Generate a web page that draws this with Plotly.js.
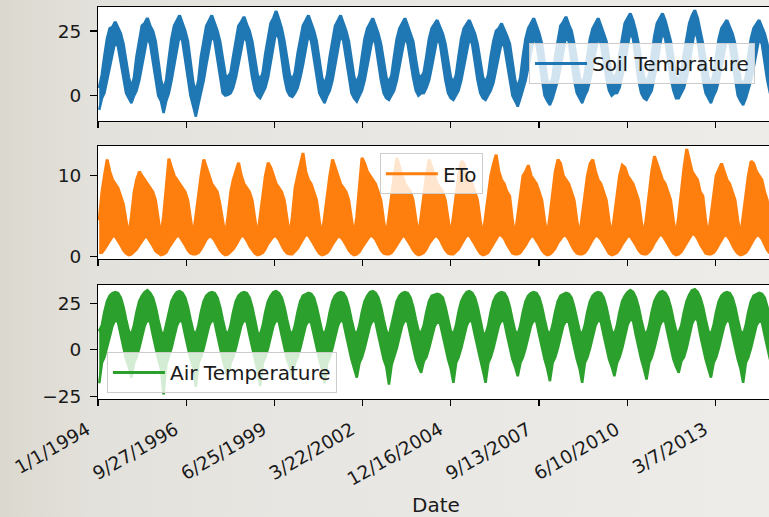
<!DOCTYPE html>
<html><head><meta charset="utf-8">
<script src="https://cdn.plot.ly/plotly-3.0.1.min.js"></script>
<style>
html,body{margin:0;padding:0;overflow:hidden;width:769px;height:517px;}
body{background:linear-gradient(90deg,#dbd8cf 0%,#e3e1db 12%,#e8e6e2 40%,#edece9 100%);}
#chart{width:779px;height:517px;}
</style></head><body><div id="chart"></div>
<script>
// ---- data (monthly envelopes: high / low of the daily line) ----
const startYear = 1994, endYear = 2014;
const tickDates = ['1994-01-01','1996-09-27','1999-06-25','2002-03-22','2004-12-16','2007-09-13','2010-06-10','2013-03-07'];
const tickLabels = ['1/1/1994','9/27/1996','6/25/1999','3/22/2002','12/16/2004','9/13/2007','6/10/2010','3/7/2013'];
const seriesNames = ['Soil Temprature','ETo','Air Temperature'];

const soilHi = [
  3, 8, 15, 22, 26, 26.5, 28.5, 26, 24, 20, 13, 7,
  3, 7, 15, 22, 27, 28, 30, 27, 25, 21, 14, 6,
  2, 6, 14, 22, 27, 29, 31, 28, 25, 21, 13, 5,
  1, 6, 15, 22, 27, 29, 31, 28, 25, 21, 14, 8,
  7, 9, 15, 22, 27, 28.5, 30.5, 27.5, 25, 21, 14, 8,
  6, 9, 16, 23, 28, 30, 32.7, 29.5, 26, 21, 14, 8,
  6, 9, 16, 22, 27, 29, 31, 28, 25, 21, 14, 7,
  4, 8, 15, 22, 27, 29, 31, 28, 25, 21, 14, 7,
  5, 8, 15, 22, 26, 28, 29.9, 27, 24, 20, 13, 7,
  5, 8, 15, 22, 26, 28, 29.9, 27, 24, 21, 14, 8,
  7, 9, 15, 22, 26, 27.5, 29.2, 26.5, 24, 20, 13, 7,
  5, 8, 15, 22, 26, 27.5, 29.2, 26.5, 24, 20, 13, 7,
  5, 8, 15, 21, 25, 26, 27.9, 25.5, 23, 20, 13, 6,
  3, 7, 15, 22, 26, 28, 29.9, 27, 24, 20, 13, 6,
  4, 7, 15, 22, 27, 28.5, 30.5, 27.5, 25, 20, 13, 7,
  4, 8, 15, 22, 26, 28, 29.9, 27, 24, 21, 14, 8,
  7, 9, 16, 23, 28, 30, 31.8, 29, 25, 20, 13, 7,
  5, 8, 15, 23, 28, 30, 31.8, 29, 25, 21, 14, 7,
  6, 9, 16, 23, 28, 31, 33, 30, 25, 20, 13, 7,
  4, 8, 15, 22, 26, 27.5, 29.2, 26.5, 24, 20, 13, 6,
  4, 7, 15, 22, 26, 27.5, 29.2, 26.5, 24, 20, 13, 7
];
const soilLo = [
  -5.5, -1, 1, 6, 11, 16, 21, 19, 13, 6, 1, -1,
  -2.9, 0, 2, 6, 11, 17, 22.5, 20, 13, 6, 0, -2,
  -6.7, -2, 1, 6, 12, 18, 23.5, 21, 14, 6, 0, -4,
  -8.1, -3, 1, 6, 12, 18, 23.5, 21, 14, 7, 1, 0,
  0.3, 1, 3, 7, 12, 18, 23, 21, 14, 7, 2, 0,
  -1, 1, 3, 7, 13, 19, 25, 22, 14, 7, 2, 0,
  -0.5, 1, 3, 7, 12, 18, 23.5, 21, 14, 7, 1, -1,
  -2.9, 0, 2, 6, 12, 18, 23.5, 21, 14, 7, 1, -1,
  -2.3, 0, 2, 6, 11, 17, 22.5, 20, 13, 6, 1, -1,
  -1.7, 0, 2, 6, 11, 17, 22.5, 20, 13, 7, 2, 0,
  0.9, 1, 3, 6, 11, 17, 22, 20, 13, 6, 1, -1,
  -1.7, 0, 2, 6, 11, 17, 22, 20, 13, 6, 1, -1,
  -1.7, 0, 2, 5, 10, 16, 20.5, 19, 13, 6, 0, -2,
  -4.2, -1, 2, 6, 11, 17, 22.5, 20, 13, 6, 0, -2,
  -3.6, -1, 2, 6, 11, 18, 23, 21, 14, 6, 1, -1,
  -2.9, 0, 2, 6, 11, 17, 22.5, 20, 13, 7, 2, 0,
  0.9, 1, 3, 7, 12, 19, 24.5, 22, 14, 6, 1, -1,
  -1.7, 0, 2, 7, 12, 19, 24.5, 22, 14, 7, 2, -1,
  -1, 1, 3, 7, 12, 19, 25.5, 22, 14, 6, 1, -1,
  -2.9, 0, 2, 6, 11, 17, 22, 20, 13, 6, 0, -2,
  -3.6, -1, 2, 6, 11, 17, 22, 20, 13, 6, 1, -1
];
const etoHi = [
  4.5, 8, 10, 12.0, 10.5, 9.5, 9, 8.5, 7.5, 6.5, 4.5, 2.5,
  5, 8, 9.5, 10.5, 10, 9.5, 9, 8.5, 8, 7, 4.5, 2.5,
  5, 8.5, 12.1, 11, 10, 9.5, 9, 8.5, 8, 7, 4.5, 2.5,
  5, 8, 10, 12.0, 11, 10, 9, 8.5, 8, 6.5, 4.5, 2.5,
  5, 8, 9.5, 10.5, 11.6, 10, 9, 8.5, 8, 7, 4.5, 2.5,
  5, 8, 10, 11.6, 11, 10, 9, 8.5, 8, 7, 4.5, 2.5,
  5, 8.5, 10, 11.5, 12.8, 10.5, 9.5, 9, 8, 7, 4.5, 2.5,
  5, 8, 10, 12.0, 11, 10, 9, 8.5, 8, 7, 4.5, 2.5,
  5, 8.5, 12.2, 11.5, 10.5, 10, 9.5, 9, 8, 7, 4.5, 2.5,
  5, 8, 10, 12.2, 11, 10, 9, 8.5, 8, 7, 4.5, 2.5,
  5, 8, 10, 12.0, 11, 10, 9, 8.5, 8, 7, 4.5, 2.5,
  5, 8, 10, 11.8, 11.5, 10, 9.5, 9, 8, 7, 4.5, 2.5,
  5, 8, 10, 11.5, 12.6, 10.5, 9.5, 9, 8, 7.5, 4.5, 2.5,
  5, 8, 10, 10.5, 11.3, 10, 9.5, 9, 8, 7, 4.5, 2.5,
  5, 8, 10.5, 12.0, 11.5, 10, 9.5, 9, 8, 7, 4.5, 2.5,
  5, 8, 10, 11.5, 12.0, 10.5, 9.5, 9, 8, 7, 4.5, 2.5,
  5, 8, 10, 11.3, 11, 10, 9.5, 9, 8, 7, 4.5, 2.5,
  5, 8, 10.5, 12.4, 11.5, 10.5, 9.5, 9, 8, 7, 4.5, 2.5,
  5, 8.5, 11, 13.3, 12, 10.5, 10, 9.5, 8, 7.5, 4.5, 2.5,
  5, 8, 10, 10.8, 11.5, 10.5, 9.5, 9, 8, 7, 4.5, 2.5,
  5, 8, 10, 11.8, 11.5, 10.5, 10, 9.5, 8, 7, 4.5, 2.5
];
const etoLo = [
  0.5, 0.5, 0.9, 1.5, 2.0, 2.5, 2.5, 2.0, 1.4, 0.8, 0.4, 0.2,
  0.3, 0.6, 0.9, 1.4, 1.9, 2.4, 2.4, 1.9, 1.3, 0.7, 0.4, 0.2,
  0.3, 0.5, 1.1, 1.6, 2.0, 2.6, 2.5, 2.0, 1.4, 0.8, 0.4, 0.3,
  0.3, 0.5, 0.9, 1.5, 2.1, 2.5, 2.4, 2.0, 1.4, 0.8, 0.4, 0.2,
  0.3, 0.6, 0.9, 1.4, 2.0, 2.6, 2.5, 2.0, 1.3, 0.8, 0.4, 0.2,
  0.3, 0.5, 0.9, 1.6, 2.0, 2.5, 2.5, 2.1, 1.4, 0.8, 0.4, 0.3,
  0.3, 0.6, 1.0, 1.6, 2.2, 2.7, 2.6, 2.1, 1.5, 0.9, 0.4, 0.2,
  0.3, 0.5, 0.9, 1.5, 2.0, 2.5, 2.4, 2.0, 1.4, 0.8, 0.4, 0.2,
  0.3, 0.6, 1.1, 1.7, 2.1, 2.6, 2.5, 2.1, 1.4, 0.8, 0.4, 0.3,
  0.3, 0.5, 0.9, 1.5, 2.0, 2.5, 2.5, 2.0, 1.4, 0.8, 0.4, 0.2,
  0.3, 0.5, 0.9, 1.6, 2.0, 2.5, 2.5, 2.1, 1.4, 0.8, 0.4, 0.3,
  0.3, 0.6, 0.9, 1.5, 2.1, 2.6, 2.6, 2.1, 1.5, 0.9, 0.4, 0.2,
  0.3, 0.5, 1.0, 1.6, 2.2, 2.7, 2.6, 2.2, 1.5, 0.9, 0.4, 0.3,
  0.3, 0.5, 0.9, 1.4, 2.0, 2.5, 2.5, 2.0, 1.4, 0.8, 0.4, 0.2,
  0.3, 0.6, 1.0, 1.7, 2.1, 2.6, 2.6, 2.1, 1.4, 0.8, 0.4, 0.3,
  0.3, 0.5, 0.9, 1.6, 2.1, 2.6, 2.5, 2.1, 1.5, 0.9, 0.4, 0.2,
  0.3, 0.5, 0.9, 1.5, 2.0, 2.5, 2.5, 2.0, 1.4, 0.8, 0.4, 0.3,
  0.3, 0.6, 1.0, 1.7, 2.2, 2.7, 2.6, 2.1, 1.5, 0.9, 0.4, 0.2,
  0.3, 0.6, 1.1, 1.8, 2.3, 2.8, 2.7, 2.2, 1.5, 0.9, 0.4, 0.3,
  0.3, 0.5, 0.9, 1.5, 2.1, 2.6, 2.6, 2.1, 1.4, 0.8, 0.4, 0.2,
  0.3, 0.5, 0.9, 1.6, 2.1, 2.6, 2.6, 2.2, 1.5, 0.8, 0.4, 0.3
];
const airHi = [
  10, 13, 20, 26, 29, 30.5, 31, 30.5, 28, 23, 16, 10,
  8, 13, 20, 26, 29, 31, 32, 30.5, 28, 23, 16, 10,
  7, 13, 20, 26, 29, 31, 31.5, 30.5, 28, 23, 16, 10,
  8, 13, 20, 26, 29, 30.5, 31, 30.5, 28, 23, 16, 10,
  8, 13, 20, 26, 29, 30.5, 31, 30.5, 28, 23, 16, 9,
  8, 13, 20, 26, 29, 31, 31.5, 30.5, 28, 23, 16, 10,
  8, 13, 20, 26, 29, 30, 30.5, 30, 28, 23, 16, 10,
  8, 13, 20, 26, 29, 30.5, 31, 30.5, 28, 23, 16, 10,
  8, 13, 20, 26, 29, 31, 31.5, 30.5, 28, 23, 16, 10,
  7, 13, 20, 26, 29, 30.5, 31, 30.5, 28, 23, 16, 10,
  9, 13, 20, 26, 29, 29.5, 30, 29.5, 28, 23, 16, 10,
  8, 13, 20, 26, 29, 31, 31.5, 30.5, 28, 23, 16, 9,
  8, 13, 20, 26, 29, 30.5, 31, 30.5, 28, 23, 16, 10,
  8, 13, 20, 26, 29, 30.5, 31, 30.5, 28, 23, 16, 10,
  8, 13, 20, 26, 29, 30, 30.5, 30, 28, 23, 16, 10,
  8, 13, 20, 26, 29, 30.5, 31, 30.5, 28, 23, 16, 10,
  8, 13, 20, 26, 29, 31, 32, 31, 28, 23, 16, 10,
  8, 13, 20, 26, 29, 31, 31.5, 30.5, 28, 23, 16, 10,
  9, 13, 20, 26, 29.5, 32, 32.5, 31, 28, 23, 16, 10,
  8, 13, 20, 26, 29, 30.5, 31, 30.5, 28, 23, 16, 10,
  8, 13, 20, 26, 29, 30, 30.5, 30, 28, 23, 16, 10
];
const airLo = [
  -18, -7, -4, 1, 7, 13, 16, 15, 8, 1, -5, -9,
  -15, -7, -4, 1, 7, 13, 16, 15, 8, 1, -5, -10,
  -24, -8, -4, 1, 7, 13, 16, 15, 8, 1, -5, -9,
  -20, -7, -4, 1, 7, 13, 16, 15, 8, 1, -5, -10,
  -15, -7, -4, 1, 7, 13, 16, 15, 8, 1, -5, -11,
  -19.5, -7, -4, 1, 7, 13, 16, 15, 8, 1, -5, -9,
  -15, -7, -4, 1, 7, 13, 15.5, 14.5, 8, 1, -5, -10,
  -18, -7, -4, 1, 7, 13, 16, 15, 8, 1, -5, -10,
  -15, -7, -4, 1, 7, 13, 16, 15, 8, 1, -5, -9,
  -18.7, -8, -4, 1, 7, 13, 16, 15, 8, 1, -5, -9,
  -12.4, -6, -4, 1, 7, 12.5, 15, 14.5, 8, 1, -5, -10,
  -17.8, -7, -4, 1, 7, 13, 16, 15, 8, 1, -5, -11,
  -17.8, -7, -4, 1, 7, 13, 16, 15, 8, 1, -5, -9,
  -14.2, -7, -4, 1, 7, 13, 16, 15, 8, 1, -5, -10,
  -16.9, -7, -4, 1, 7, 13, 15.5, 15, 8, 1, -5, -10,
  -17.8, -7, -4, 1, 7, 13, 16, 15, 8, 1, -5, -9,
  -14.2, -7, -4, 1, 7, 13.5, 16.5, 15.5, 8, 1, -5, -10,
  -16, -7, -4, 1, 7, 13, 16, 15, 8, 1, -5, -9,
  -12.4, -6, -4, 1, 8, 14, 17, 16, 8, 1, -5, -10,
  -15, -7, -4, 1, 7, 13, 16, 15, 8, 1, -5, -10,
  -17.8, -7, -4, 1, 7, 13, 15.5, 15, 8, 1, -5, -9
];

// month positions (15th of each month) for the envelopes
const months = [];
for (let y = startYear; y <= endYear; y++) {
  for (let m = 1; m <= 12; m++) months.push(y + '-' + String(m).padStart(2, '0') + '-15');
}

const colors = ['#1f77b4', '#ff7f0e', '#2ca02c'];
const his = [soilHi, etoHi, airHi];
const los = [soilLo, etoLo, airLo];
const data = [];
for (let i = 0; i < 3; i++) {
  const ax = i === 0 ? '' : String(i + 1);
  data.push({
    x: months, y: his[i], type: 'scatter', mode: 'lines', name: seriesNames[i],
    line: {color: colors[i], width: 3}, xaxis: 'x' + ax, yaxis: 'y' + ax,
    legend: 'legend' + ax, showlegend: true, hoverinfo: 'skip'
  });
  data.push({
    x: months, y: los[i], type: 'scatter', mode: 'lines', name: seriesNames[i],
    line: {color: colors[i], width: 2.5}, fill: 'tonexty', fillcolor: colors[i],
    xaxis: 'x' + ax, yaxis: 'y' + ax, legend: 'legend' + ax, showlegend: false, hoverinfo: 'skip'
  });
}

const tickFont = {family: 'DejaVu Sans', size: 18.5, color: '#1a1a1a'};
function xax(anchor, labels) {
  return {
    type: 'date', range: ['1994-01-01', '2014-12-31'], anchor: anchor,
    showline: true, linecolor: '#000', linewidth: 1, mirror: true,
    ticks: 'outside', ticklen: 6, tickwidth: 1.2, tickcolor: '#000',
    tickmode: 'array', tickvals: tickDates, ticktext: tickLabels,
    showticklabels: labels, tickangle: -30, tickfont: tickFont,
    ticklabelstandoff: 6, ticklabelshift: -11,
    showgrid: false, zeroline: false
  };
}
function yax(domain, range, vals, anchor) {
  return {
    domain: domain, range: range, anchor: anchor,
    showline: true, linecolor: '#000', linewidth: 1, mirror: true,
    ticks: 'outside', ticklen: 7, tickwidth: 1.2, tickcolor: '#000',
    tickmode: 'array', tickvals: vals, tickfont: tickFont,
    ticklabelstandoff: 5,
    showgrid: false, zeroline: false
  };
}
const legBase = {
  bgcolor: 'rgba(255,255,255,0.8)', bordercolor: '#cccccc', borderwidth: 1,
  font: {family: 'DejaVu Sans', size: 20, color: '#1a1a1a'},
  xanchor: 'left', yanchor: 'top', itemwidth: 52
};
const x3 = xax('y3', true);
x3.title = {text: 'Date', font: {family: 'DejaVu Sans', size: 20, color: '#1a1a1a'}, standoff: 9};

const layout = {
  width: 779, height: 517,
  margin: {l: 98, r: 5, t: 7, b: 118},
  paper_bgcolor: 'rgba(0,0,0,0)', plot_bgcolor: '#ffffff',
  showlegend: true,
  xaxis: xax('y', false),
  xaxis2: xax('y2', false),
  xaxis3: x3,
  yaxis: yax([0.7092, 1], [-9.8, 34.3], [0, 25], 'x'),
  yaxis2: yax([0.3571, 0.6454], [-0.28, 13.67], [0, 10], 'x2'),
  yaxis3: yax([0, 0.2908], [-26.5, 34.9], [-25, 0, 25], 'x3'),
  legend: Object.assign({}, legBase, {x: 0.6376, y: 0.908}),
  legend2: Object.assign({}, legBase, {x: 0.417, y: 0.627}),
  legend3: Object.assign({}, legBase, {x: 0.0133, y: 0.1199})
};
Plotly.newPlot('chart', data, layout, {staticPlot: true, displayModeBar: false});
</script></body></html>
